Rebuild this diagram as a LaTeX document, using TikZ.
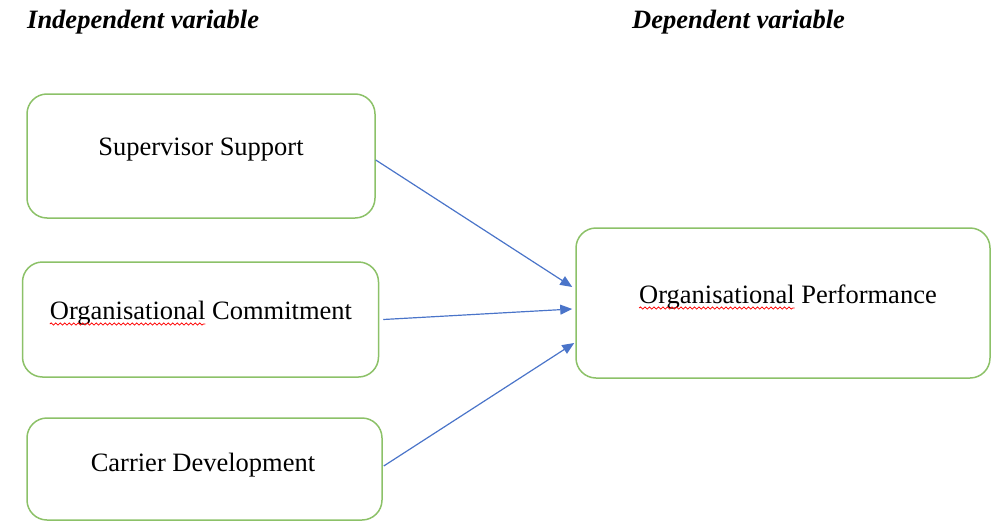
\documentclass[tikz,border=0pt]{standalone}
\usepackage{fontspec}
\setmainfont{Liberation Serif}
\usetikzlibrary{arrows.meta,decorations.pathmorphing}
\definecolor{boxgreen}{HTML}{8CC168}
\definecolor{arrowblue}{HTML}{4A74C9}
\newlength\orgwordlen
\begin{document}
\settowidth{\orgwordlen}{\fontsize{26.5}{30}\selectfont Organisational}%
\begin{tikzpicture}[x=1pt,y=-1pt,
  varbox/.style={draw=boxgreen,line width=1.5pt,rounded corners=20pt,inner sep=0pt},
  boxtext/.style={anchor=base,inner sep=0pt,font=\fontsize{26.5}{30}\selectfont},
  headtext/.style={anchor=base west,inner sep=0pt,font=\fontsize{26.5}{30}\selectfont\bfseries\itshape},
  spellwave/.style={draw=red,line width=0.8pt,decorate,decoration={snake,amplitude=1.1pt,segment length=4.5pt}},
  conn/.style={draw=arrowblue,line width=1.2pt,-{Triangle[length=12pt,width=10pt]}}]
\useasboundingbox (0,0) rectangle (992,522);
\node[headtext] (h1) at (27,28) {Independent variable};
\node[headtext] (h2) at (632,28) {Dependent variable};
\node[varbox,minimum width=348pt,minimum height=124pt] (b1) at (201,156) {};
\node[varbox,minimum width=356pt,minimum height=115pt] (b2) at (200.5,319.5) {};
\node[varbox,minimum width=355pt,minimum height=102pt] (b3) at (204.5,469) {};
\node[varbox,minimum width=414pt,minimum height=150pt] (b4) at (783,303) {};
\node[boxtext] (t1) at (201,155) {Supervisor Support};
\node[boxtext] (t2) at (201,319) {Organisational Commitment};
\node[boxtext] (t3) at (203,471) {Carrier Development};
\node[boxtext] (t4) at (788,303) {Organisational Performance};
\coordinate (w2s) at ([yshift=-5pt]t2.base west);
\coordinate (w4s) at ([yshift=-5pt]t4.base west);
\draw[spellwave] (w2s) -- ([xshift=\orgwordlen]w2s);
\draw[spellwave] (w4s) -- ([xshift=\orgwordlen]w4s);
\coordinate (s1) at ([yshift=-4pt]b1.east);
\coordinate (e1) at ([xshift=-3pt,yshift=16pt]b4.west);
\coordinate (s2) at ([xshift=4pt,yshift=0pt]b2.east);
\coordinate (e2) at ([xshift=-3pt,yshift=-6pt]b4.west);
\coordinate (s3) at ([xshift=1pt,yshift=3pt]b3.east);
\coordinate (e3) at ([xshift=-1pt,yshift=-40pt]b4.west);
\draw[conn] (s1) -- (e1);
\draw[conn] (s2) -- (e2);
\draw[conn] (s3) -- (e3);
\end{tikzpicture}
\end{document}
